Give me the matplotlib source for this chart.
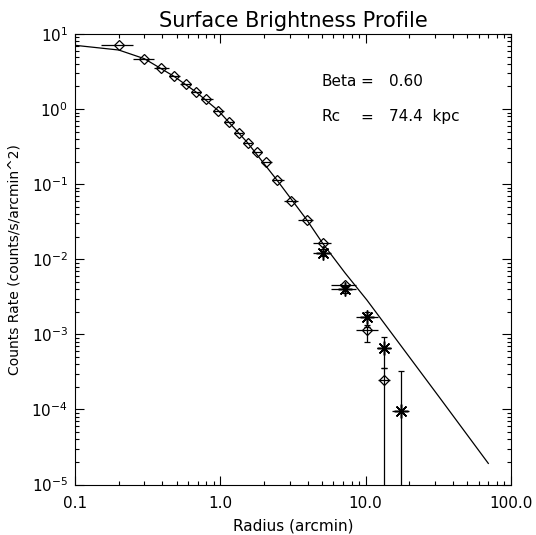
import numpy as np
import matplotlib
matplotlib.use("Agg")
import matplotlib.pyplot as plt
from matplotlib.ticker import LogLocator, FixedLocator, FixedFormatter, NullFormatter

# --- surface brightness data ---
# diamonds: radius (arcmin), bin edges, counts rate
dia_r   = [0.2, 0.3, 0.39, 0.48, 0.58, 0.68, 0.80, 0.97, 1.15, 1.34,
           1.54, 1.78, 2.06, 2.45, 3.05, 3.92, 5.06, 7.21, 10.2, 13.4]
dia_rlo = [0.15, 0.25, 0.35, 0.44, 0.53, 0.63, 0.74, 0.89, 1.06, 1.25,
           1.44, 1.66, 1.92, 2.25, 2.75, 3.40, 4.35, 5.75, 8.55, 12.2]
dia_rhi = [0.25, 0.35, 0.44, 0.53, 0.63, 0.74, 0.89, 1.06, 1.25, 1.44,
           1.66, 1.92, 2.25, 2.75, 3.40, 4.35, 5.75, 8.55, 12.2, 14.7]
dia_v   = [7.07, 4.69, 3.56, 2.73, 2.14, 1.69, 1.36, 0.951, 0.679, 0.485,
           0.356, 0.270, 0.195, 0.1136, 0.0605, 0.0338, 0.0163, 0.00454, 0.00114, 0.000246]
# vertical error bars that are visible on the last diamonds
dia_err_r  = [10.2, 13.4]
dia_err_v  = [0.00114, 0.000246]
dia_err_lo = [7.83e-4, 1e-9]
dia_err_hi = [1.26e-3, 3.52e-4]

# asterisks
ast_r   = [5.06, 7.21, 10.2, 13.4, 17.5]
ast_rlo = [4.35, 5.75, 8.55, 12.2, 15.1]
ast_rhi = [5.75, 8.55, 12.2, 14.7, 19.9]
ast_v   = [0.01222, 0.00398, 0.00168, 0.000652, 9.5e-5]
ast_vlo = [0.0110, 0.0036, 1.33e-3, 3.52e-4, 1e-9]
ast_vhi = [0.0136, 0.0044, 2.0e-3, 9.3e-4, 3.24e-4]

# beta-model curve, read at a few radii
mod_r = [0.1, 0.2, 0.3, 0.48, 0.68, 0.97, 1.54, 2.45, 3.92, 5.06, 7.21, 10.2, 32.5, 69.8]
mod_v = [7.07, 6.12, 4.69, 2.73, 1.69, 0.951, 0.356, 0.1136, 0.0338, 0.0163,
         6.58e-3, 2.86e-3, 1.41e-4, 1.91e-5]

xticks = [0.1, 1.0, 10.0, 100.0]
xticklabels = ["0.1", "1.0", "10.0", "100.0"]
yticks = [1e-5, 1e-4, 1e-3, 1e-2, 1e-1, 1e0, 1e1]
yticklabels = [r"$10^{-5}$", r"$10^{-4}$", r"$10^{-3}$", r"$10^{-2}$",
               r"$10^{-1}$", r"$10^{0}$", r"$10^{1}$"]

fig = plt.figure(figsize=(5.36, 5.35), dpi=100)
ax = fig.add_axes([75/536, 50.5/535, 436/536, 450.5/535])
ax.set_xscale("log")
ax.set_yscale("log")
ax.set_xlim(0.1, 100)
ax.set_ylim(1e-5, 10)

# model line
ax.plot(mod_r, mod_v, color="k", lw=0.9)

# diamonds
dr = np.array(dia_r)
ax.errorbar(dr, dia_v, xerr=[dr - np.array(dia_rlo), np.array(dia_rhi) - dr],
            fmt="none", ecolor="k", elinewidth=0.9, capsize=0)
ev = np.array(dia_err_v)
ax.errorbar(dia_err_r, ev, yerr=[ev - np.array(dia_err_lo), np.array(dia_err_hi) - ev],
            fmt="none", ecolor="k", elinewidth=0.9, capsize=2.2, capthick=0.9)
ax.plot(dr, dia_v, "D", ms=5, mfc="none", mec="k", mew=0.9)

# asterisks
ar = np.array(ast_r); av = np.array(ast_v)
ax.errorbar(ar, av, xerr=[ar - np.array(ast_rlo), np.array(ast_rhi) - ar],
            fmt="none", ecolor="k", elinewidth=0.9, capsize=0)
ax.errorbar(ar, av, yerr=[av - np.array(ast_vlo), np.array(ast_vhi) - av],
            fmt="none", ecolor="k", elinewidth=0.9, capsize=2.2, capthick=0.9)
ax.plot(ar, av, marker=(8, 2, 0), ls="none", ms=10, mec="k", mew=1.1)

# ticks
ax.xaxis.set_major_locator(FixedLocator(xticks))
ax.xaxis.set_major_formatter(FixedFormatter(xticklabels))
ax.xaxis.set_minor_locator(LogLocator(base=10, subs=np.arange(2, 10)))
ax.xaxis.set_minor_formatter(NullFormatter())
ax.yaxis.set_major_locator(FixedLocator(yticks))
ax.yaxis.set_major_formatter(FixedFormatter(yticklabels))
ax.yaxis.set_minor_locator(LogLocator(base=10, subs=np.arange(2, 10), numticks=20))
ax.yaxis.set_minor_formatter(NullFormatter())
ax.tick_params(which="both", direction="in", top=True, right=True, width=0.8, colors="k")
ax.tick_params(which="major", length=6.5, labelsize=11)
ax.tick_params(which="minor", length=2.9)
ax.tick_params(axis="x", which="major", pad=8.5)
ax.tick_params(axis="y", which="major", pad=5)
for sp in ax.spines.values():
    sp.set_linewidth(0.8)

ax.set_title("Surface Brightness Profile", fontsize=15, pad=5)
ax.set_xlabel("Radius (arcmin)", fontsize=11, labelpad=5)
ax.set_ylabel("Counts Rate (counts/s/arcmin^2)", fontsize=10, labelpad=7)

# fit parameters
tk = dict(transform=ax.transAxes, fontsize=11, va="center")
ax.text(0.566, 0.894, "Beta", **tk)
ax.text(0.654, 0.894, "=", **tk)
ax.text(0.720, 0.894, "0.60", **tk)
ax.text(0.566, 0.816, "Rc", **tk)
ax.text(0.654, 0.816, "=", **tk)
ax.text(0.720, 0.816, "74.4  kpc", **tk)

fig.savefig("out.png", dpi=100, facecolor="white")
